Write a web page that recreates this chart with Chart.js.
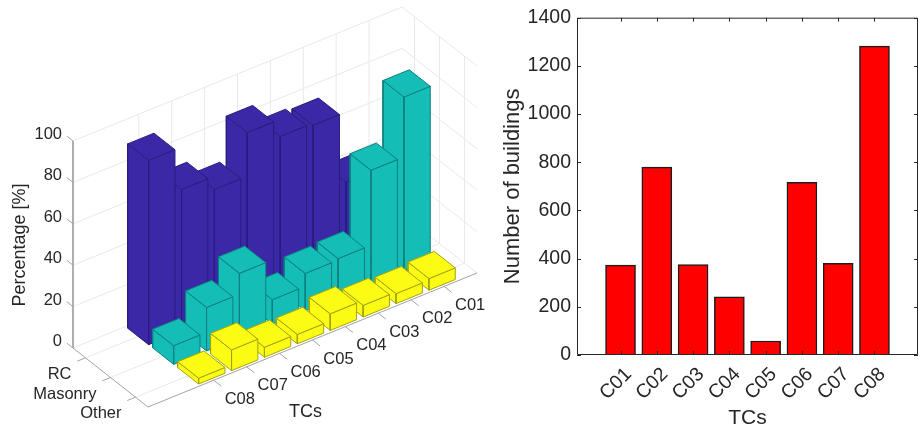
<!DOCTYPE html>
<html>
<head>
<meta charset="utf-8">
<title>TCs</title>
<script src="https://cdn.jsdelivr.net/npm/chart.js@4"></script>
<style>
html, body { margin: 0; padding: 0; background: #fff; overflow: hidden; }
canvas { position: absolute; top: 0; }
#ch3d { left: 0; }
#chBars { left: 490px; }
</style>
</head>
<body>
<canvas id="ch3d" width="490" height="427"></canvas>
<canvas id="chBars" width="430" height="427"></canvas>
<script>
// chart data
var categories = ['C01', 'C02', 'C03', 'C04', 'C05', 'C06', 'C07', 'C08'];
var classes = ['RC', 'Masonry', 'Other'];
var rcPct = [10, 39.7, 73.6, 74.7, 83, 62, 68.5, 89];
var masonryPct = [83.8, 54.9, 18.7, 18, 11.8, 31, 21, 9];
var otherPct = [5.6, 4.8, 5.6, 8, 4.5, 4.8, 10, 2.8];
var pctTicks = [0, 20, 40, 60, 80, 100];
var buildings = [373, 780, 375, 241, 58, 717, 381, 1282];
var buildingTicks = [0, 200, 400, 600, 800, 1000, 1200, 1400];

var fontName = '"Liberation Sans", Arial, sans-serif';
var textColor = '#262626';

// fixed camera of the 3d axes (orthographic)
var view = {
    x0: 402, y0: 214,
    tcX: -32.9, tcY: 13.4,
    clsX: 25, clsY: 19.67,
    pctY: -2.07
};
var tcMax = 10, clsMin = 0.5, clsMax = 3.5, pctMax = 100, tcHalf = 0.4, clsHalf = 0.42;

function project(tc, cls, pct) {
    return {
        x: view.x0 + tc * view.tcX + (cls - clsMin) * view.clsX,
        y: view.y0 + tc * view.tcY + (cls - clsMin) * view.clsY + pct * view.pctY
    };
}

function polyDataset(points, fillColor, lineColor) {
    return {
        data: points,
        showLine: true,
        tension: 0,
        pointRadius: 0,
        borderWidth: 1,
        borderColor: lineColor,
        backgroundColor: fillColor || 'transparent',
        fill: fillColor ? 'shape' : false
    };
}

var painted = [];

// back walls and floor
var gridColor = '#e9e9e9';
pctTicks.forEach(function (p) {
    painted.push(polyDataset([project(tcMax, clsMin, p), project(0, clsMin, p), project(0, clsMax, p)], null, gridColor));
});
categories.forEach(function (c, i) {
    painted.push(polyDataset([project(i + 1, clsMax, 0), project(i + 1, clsMin, 0), project(i + 1, clsMin, pctMax)], null, gridColor));
});
classes.forEach(function (c, i) {
    painted.push(polyDataset([project(tcMax, i + 1, 0), project(0, i + 1, 0), project(0, i + 1, pctMax)], null, gridColor));
});

// axis lines and their ticks
var axisColor = '#a3a3a3';
painted.push(polyDataset([project(tcMax, clsMin, pctMax), project(tcMax, clsMin, 0), project(tcMax, clsMax, 0), project(0, clsMax, 0)], null, axisColor));
pctTicks.forEach(function (p) {
    painted.push(polyDataset([project(tcMax, clsMin, p), project(tcMax, clsMin - 0.25, p)], null, axisColor));
});
categories.forEach(function (c, i) {
    painted.push(polyDataset([project(i + 1, clsMax, 0), project(i + 1, clsMax + 0.3, 0)], null, axisColor));
});
classes.forEach(function (c, i) {
    painted.push(polyDataset([project(tcMax, i + 1, 0), project(tcMax + 0.25, i + 1, 0)], null, axisColor));
});

// bars, back to front
var barSeries = [
    { values: rcPct, fill: '#3b28a6', edge: '#281d7c' },
    { values: masonryPct, fill: '#14beb6', edge: '#0e7f80' },
    { values: otherPct, fill: '#fbfb14', edge: '#a3a312' }
];
barSeries.forEach(function (s, k) {
    var c = k + 1;
    s.values.forEach(function (v, i) {
        var t = i + 1;
        var a = tcHalf, b = clsHalf;
        painted.push(polyDataset([
            project(t + a, c - b, 0), project(t + a, c + b, 0), project(t + a, c + b, v), project(t + a, c - b, v), project(t + a, c - b, 0)
        ], s.fill, s.edge));
        painted.push(polyDataset([
            project(t + a, c + b, 0), project(t - a, c + b, 0), project(t - a, c + b, v), project(t + a, c + b, v), project(t + a, c + b, 0)
        ], s.fill, s.edge));
        painted.push(polyDataset([
            project(t - a, c - b, v), project(t - a, c + b, v), project(t + a, c + b, v), project(t + a, c - b, v), project(t - a, c - b, v)
        ], s.fill, s.edge));
    });
});

// chart.js paints the first dataset last
painted.reverse();

var labels3d = {
    id: 'labels3d',
    afterDraw: function (chart) {
        var ctx = chart.ctx, sx = chart.scales.x, sy = chart.scales.y;
        function put(p, dx, dy) {
            return { x: sx.getPixelForValue(p.x) + dx, y: sy.getPixelForValue(p.y) + dy };
        }
        ctx.save();
        ctx.fillStyle = textColor;
        ctx.textBaseline = 'middle';
        ctx.font = '16.5px ' + fontName;
        ctx.textAlign = 'right';
        pctTicks.forEach(function (p) {
            var q = put(project(tcMax, clsMin, p), -11, -6.5);
            ctx.fillText(String(p), q.x, q.y);
        });
        classes.forEach(function (c, i) {
            var q = put(project(tcMax, i + 1, 0), -14, 16.5);
            ctx.fillText(c, q.x, q.y);
        });
        ctx.textAlign = 'center';
        categories.forEach(function (c, i) {
            var q = put(project(i + 1, clsMax, 0), 26, 19);
            ctx.fillText(c, q.x, q.y);
        });
        ctx.font = '18px ' + fontName;
        ctx.fillText('TCs', 305.5, 412.5);
        ctx.translate(20, 245);
        ctx.rotate(-Math.PI / 2);
        ctx.fillText('Percentage [%]', 0, 0);
        ctx.restore();
    }
};

var ch3d = new Chart(document.getElementById('ch3d'), {
    type: 'scatter',
    data: { datasets: painted },
    options: {
        responsive: false,
        animation: false,
        events: [],
        layout: { padding: 0 },
        plugins: { legend: { display: false }, tooltip: { enabled: false } },
        scales: {
            x: { type: 'linear', display: false, min: 0, max: 490 },
            y: { type: 'linear', display: false, min: 0, max: 427, reverse: true }
        }
    },
    plugins: [labels3d]
});

// inward ticks and box, matlab style
var boxTicks = {
    id: 'boxTicks',
    afterDatasetsDraw: function (chart) {
        var ctx = chart.ctx, a = chart.chartArea, sx = chart.scales.x, sy = chart.scales.y;
        var len = 4;
        ctx.save();
        ctx.strokeStyle = textColor;
        ctx.lineWidth = 1;
        ctx.beginPath();
        ctx.rect(a.left + 0.5, a.top + 0.5, a.right - a.left - 1, a.bottom - a.top - 1);
        categories.forEach(function (c, i) {
            var x = Math.round(sx.getPixelForValue(i + 1)) + 0.5;
            ctx.moveTo(x, a.bottom);
            ctx.lineTo(x, a.bottom - len);
            ctx.moveTo(x, a.top);
            ctx.lineTo(x, a.top + len);
        });
        buildingTicks.forEach(function (v) {
            var y = Math.round(sy.getPixelForValue(v)) + 0.5;
            ctx.moveTo(a.left, y);
            ctx.lineTo(a.left + len, y);
            ctx.moveTo(a.right, y);
            ctx.lineTo(a.right - len, y);
        });
        ctx.stroke();
        ctx.restore();
    }
};

var chBars = new Chart(document.getElementById('chBars'), {
    type: 'bar',
    data: {
        datasets: [{
            data: buildings.map(function (v, i) { return { x: i + 1, y: v }; }),
            backgroundColor: '#ff0000',
            borderColor: '#1c1c1c',
            borderWidth: 1.5,
            barThickness: 30
        }]
    },
    options: {
        responsive: false,
        animation: false,
        events: [],
        layout: { padding: { top: 16, right: 2, left: 0, bottom: 0 } },
        plugins: { legend: { display: false }, tooltip: { enabled: false } },
        scales: {
            x: {
                type: 'linear',
                offset: false,
                min: -0.2,
                max: 9.2,
                grid: { display: false, drawTicks: false },
                border: { display: false },
                afterBuildTicks: function (scale) {
                    scale.ticks = categories.map(function (c, i) { return { value: i + 1 }; });
                },
                afterFit: function (scale) { scale.height = 72; },
                ticks: {
                    autoSkip: false,
                    minRotation: 45,
                    maxRotation: 45,
                    padding: 8,
                    labelOffset: 8,
                    color: textColor,
                    font: { family: fontName, size: 19.5 },
                    callback: function (v) { return categories[v - 1]; }
                },
                title: {
                    display: true,
                    text: 'TCs',
                    color: textColor,
                    font: { family: fontName, size: 21 },
                    padding: { top: 0, bottom: -4 }
                }
            },
            y: {
                type: 'linear',
                min: 0,
                max: 1400,
                grid: { display: false, drawTicks: false },
                border: { display: false },
                afterBuildTicks: function (scale) {
                    scale.ticks = buildingTicks.map(function (v) { return { value: v }; });
                },
                afterFit: function (scale) { scale.width = 87; },
                ticks: {
                    padding: 6,
                    color: textColor,
                    font: { family: fontName, size: 19.5 },
                    callback: function (v) { return String(v); }
                },
                title: {
                    display: true,
                    text: 'Number of buildings',
                    color: textColor,
                    font: { family: fontName, size: 22 },
                    padding: { top: 10, bottom: 0 }
                }
            }
        }
    },
    plugins: [boxTicks]
});
</script>
</body>
</html>
